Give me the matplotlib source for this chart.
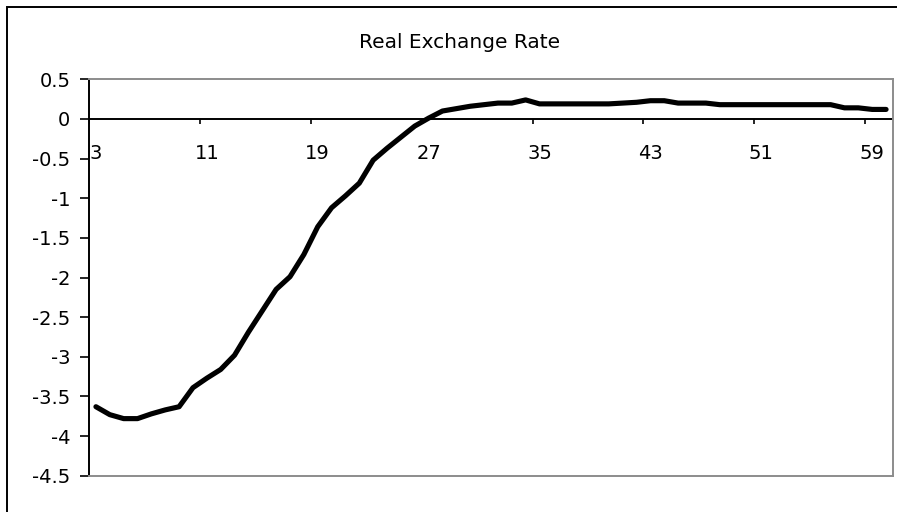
import matplotlib

matplotlib.use("Agg")
import matplotlib.pyplot as plt
from matplotlib.patches import Rectangle

# Excel-style category chart: periods 3..60
periods = list(range(3, 61))
real_exchange_rate = [
    -3.63, -3.73, -3.78, -3.78, -3.72, -3.67, -3.63, -3.39, -3.27, -3.16,
    -2.98, -2.69, -2.42, -2.15, -1.99, -1.71, -1.36, -1.12, -0.97, -0.81,
    -0.52, -0.37, -0.23, -0.09, 0.01, 0.10, 0.13, 0.16, 0.18, 0.20,
    0.20, 0.24, 0.19, 0.19, 0.19, 0.19, 0.19, 0.19, 0.20, 0.21,
    0.23, 0.23, 0.20, 0.20, 0.20, 0.18, 0.18, 0.18, 0.18, 0.18,
    0.18, 0.18, 0.18, 0.18, 0.14, 0.14, 0.12, 0.12,
]
label_periods = [3, 11, 19, 27, 35, 43, 51, 59]
y_ticks = [0.5, 0, -0.5, -1, -1.5, -2, -2.5, -3, -3.5, -4, -4.5]
title = "Real Exchange Rate"

W, H = 897, 512
FS = 14
fig = plt.figure(figsize=(W / 100, H / 100), dpi=100, facecolor="white")

# chart area border (right/bottom edges fall outside the picture)
fig.patches.append(Rectangle((7 / W, -0.2), 2.0, (H - 7) / H + 0.2,
                             transform=fig.transFigure, fill=False,
                             edgecolor="black", linewidth=1.4))

left, right, top, bottom = 89, 893, 79.3, 475.7
ax = fig.add_axes([left / W, 1 - bottom / H, (right - left) / W, (bottom - top) / H])

ax.plot(periods, real_exchange_rate, color="black", linewidth=3.7,
        solid_joinstyle="round", solid_capstyle="round", zorder=3)

ax.set_xlim(periods[0] - 0.5, periods[-1] + 0.5)
ax.set_ylim(-4.5, 0.5)

for side in ("top", "right", "bottom"):
    ax.spines[side].set_color("#8c8c8c")
    ax.spines[side].set_linewidth(1.4)
ax.spines["left"].set_color("black")
ax.spines["left"].set_linewidth(1.4)

ax.set_yticks(y_ticks)
ax.set_yticklabels([f"{v:g}" for v in y_ticks])
ax.tick_params(axis="y", direction="out", length=6.5, width=1.2, pad=7,
               labelsize=FS, colors="black")

# category axis crossing at zero; tick marks between categories
ax.axhline(0, color="black", linewidth=1.4, zorder=2)
ax.set_xticks([])
for p in label_periods:
    ax.vlines(p - 0.5, 0, -0.065, color="black", linewidth=1.2, zorder=2)
    ax.annotate(str(p), xy=(p, 0), xycoords="data", xytext=(0, -25),
                textcoords="offset points", ha="center", va="center",
                fontsize=FS, color="black")

fig.text(460 / W, 1 - 43 / H, title, ha="center", va="center",
         fontsize=FS + 0.5, color="black")

fig.savefig("out.png", dpi=100, facecolor="white")
